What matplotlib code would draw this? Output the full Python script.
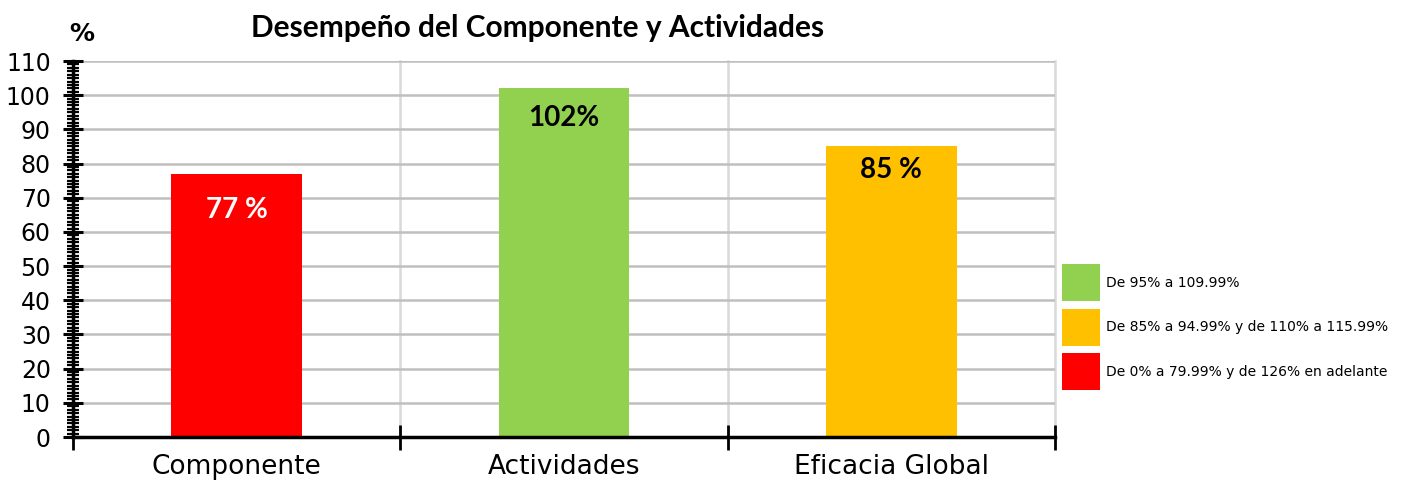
import matplotlib.pyplot as plt
from matplotlib.patches import Rectangle
from matplotlib.ticker import MultipleLocator

# data
categorias = ['Componente', 'Actividades', 'Eficacia Global']
valores = [77, 102, 85]
etiquetas = ['77 %', '102%', '85 %']
colores = ['#ff0000', '#92d050', '#ffc000']
colores_texto = ['white', 'black', 'black']

rangos = ['De 95% a 109.99%',
          'De 85% a 94.99% y de 110% a 115.99%',
          'De 0% a 79.99% y de 126% en adelante']
colores_rangos = ['#92d050', '#ffc000', '#ff0000']

fig = plt.figure(figsize=(14.18, 4.83), dpi=100)
ax = fig.add_axes([0.0515, 0.0952, 0.6925, 0.7785])

x = range(len(categorias))
ax.bar(x, valores, width=0.4, color=colores, zorder=3)

# label offsets below the top of each bar (points)
desfases = [-26, -21, -17]
for i, (v, t, c) in enumerate(zip(valores, etiquetas, colores_texto)):
    ax.annotate(t, (i, v), xytext=(0, desfases[i]), textcoords='offset points',
                ha='center', va='center', fontsize=20, fontweight='bold',
                color=c, family='Lato', zorder=4)

ax.set_xlim(-0.5, len(categorias) - 0.5)
ax.set_ylim(0, 110)

# y axis
ax.yaxis.set_major_locator(MultipleLocator(10))
ax.yaxis.set_minor_locator(MultipleLocator(1))
ax.tick_params(axis='y', which='major', direction='inout', length=14, width=2.2,
               labelsize=17, pad=9)
ax.tick_params(axis='y', which='minor', direction='inout', length=8.5, width=1.6)
ax.grid(axis='y', which='major', color='#bfbfbf', linewidth=1.8, zorder=0)

# x axis: ticks on boundaries, labels at centers
ax.set_xticks([-0.5, 0.5, 1.5, 2.5])
ax.set_xticklabels([])
ax.set_xticks(list(x), minor=True)
ax.set_xticklabels(categorias, minor=True, fontsize=19)
ax.tick_params(axis='x', which='major', direction='inout', length=18, width=2)
ax.tick_params(axis='x', which='minor', length=0, pad=12)
for b in [0.5, 1.5, 2.5]:
    ax.axvline(b, color='#d9d9d9', linewidth=1.8, zorder=0, clip_on=False)

for s in ['top', 'right']:
    ax.spines[s].set_visible(False)
ax.spines['left'].set_linewidth(2.5)
ax.spines['bottom'].set_linewidth(2.5)
ax.spines['left'].set_zorder(5)
ax.spines['bottom'].set_zorder(5)

fig.text(0.379, 0.942, 'Desempeño del Componente y Actividades', ha='center',
         va='center', fontsize=21.5, fontweight='bold', family='Lato')
fig.text(0.058, 0.93, '%', ha='center', va='center', fontsize=18,
         fontweight='bold')

# colour range key, drawn in figure coordinates
W, H = fig.get_size_inches() * fig.dpi
y0 = 264
for i, (t, c) in enumerate(zip(rangos, colores_rangos)):
    top = y0 + i * 44.5
    fig.add_artist(Rectangle((1062 / W, 1 - (top + 37) / H), 38 / W, 37 / H,
                             facecolor=c, edgecolor='none',
                             transform=fig.transFigure))
    fig.text(1106 / W, 1 - (top + 19) / H, t, ha='left', va='center',
             fontsize=10)

fig.savefig('out.png', dpi=100)
